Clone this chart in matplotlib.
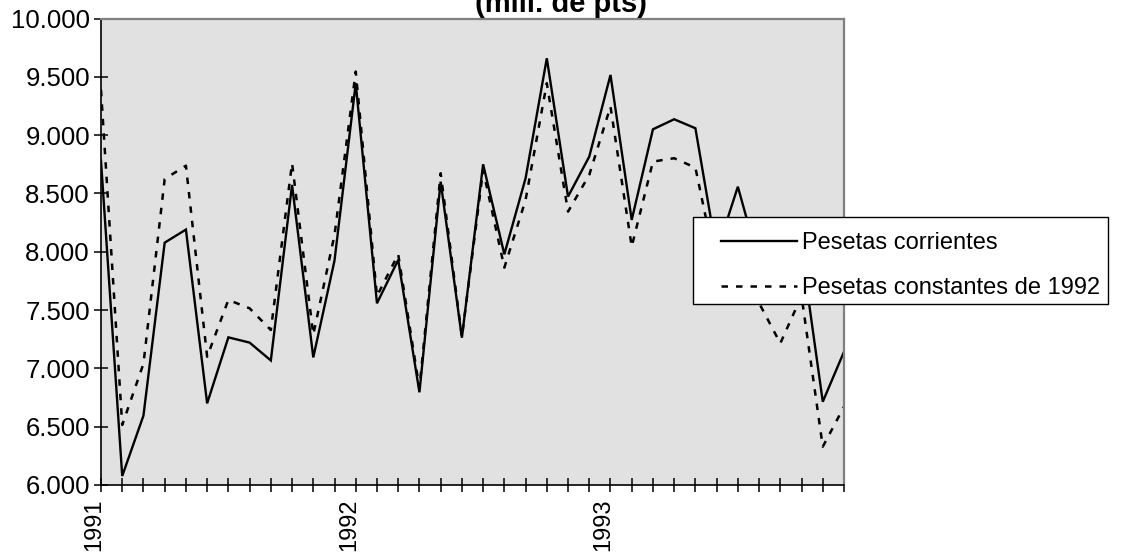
import matplotlib
matplotlib.use("Agg")
import matplotlib.pyplot as plt
import matplotlib.transforms as mtransforms
from matplotlib.patches import Rectangle
from matplotlib.lines import Line2D
from matplotlib.ticker import FixedLocator, FuncFormatter

plt.rcParams["font.family"] = ["Liberation Sans", "DejaVu Sans"]

# Monthly series, January 1991 - December 1993 (millions of pesetas)
months = list(range(36))
year_labels = ["1991", "1992", "1993"]
year_positions = [0, 12, 24]

corrientes = [8780, 6077, 6595, 8078, 8190, 6700, 7266, 7221, 7068, 8573, 7094, 7925,
              9445, 7558, 7930, 6795, 8601, 7263, 8750, 7978, 8630, 9659, 8473, 8816,
              9516, 8273, 9050, 9136, 9059, 7995, 8558, 7900, 7600, 8020, 6714, 7143]

constantes = [9388, 6515, 7040, 8624, 8738, 7100, 7587, 7515, 7329, 8759, 7290, 8144,
              9545, 7620, 7978, 6830, 8673, 7270, 8700, 7864, 8444, 9445, 8344, 8659,
              9245, 8044, 8773, 8802, 8721, 7850, 8150, 7560, 7215, 7620, 6328, 6671]

series_names = ["Pesetas corrientes", "Pesetas constantes de 1992"]
title_text = "(mill. de pts)"

W, H = 1122, 554
fig = plt.figure(figsize=(W / 100, H / 100), dpi=100)
fig.patch.set_facecolor("white")

ax = fig.add_axes([101 / W, 1 - 485 / H, 743 / W, (485 - 18.5) / H])
ax.set_facecolor("#e1e1e1")

dash = (0, (2.6, 3.2))
ax.plot(months, corrientes, color="black", lw=1.7, solid_joinstyle="miter")
ax.plot(months, constantes, color="black", lw=1.8, linestyle=dash)

ax.set_xlim(0, 35)
ax.set_ylim(6000, 10000)

ax.yaxis.set_major_locator(FixedLocator(range(6000, 10001, 500)))
ax.yaxis.set_major_formatter(
    FuncFormatter(lambda v, p: f"{int(v):,}".replace(",", ".")))

ax.xaxis.set_major_locator(FixedLocator(months))
lab = {p: t for p, t in zip(year_positions, year_labels)}
ax.xaxis.set_major_formatter(FuncFormatter(lambda v, p: lab.get(int(round(v)), "")))

ax.tick_params(axis="both", direction="inout", length=10, width=1.1,
               color="black")
ax.tick_params(axis="y", pad=3, labelsize=18.5)
ax.tick_params(axis="x", pad=5, labelsize=17)

shift = mtransforms.ScaledTranslation(-5 / 72, 0, fig.dpi_scale_trans)
for t in ax.get_xticklabels():
    t.set_rotation(90)
    t.set_transform(t.get_transform() + shift)

for side in ("left", "bottom"):
    ax.spines[side].set_color("black")
    ax.spines[side].set_linewidth(1.2)
for side in ("top", "right"):
    ax.spines[side].set_color("#808080")
    ax.spines[side].set_linewidth(1.6)

fig.text(0.5, 1 - 12.5 / H, title_text, ha="center", va="baseline",
         fontsize=21, fontweight="bold")

# legend box
fig.add_artist(Rectangle((693 / W, 1 - 304 / H), 415 / W, 87 / H,
                         transform=fig.transFigure, facecolor="white",
                         edgecolor="black", lw=1.0, zorder=5))
handles = [Line2D([], [], color="black", lw=1.7),
           Line2D([], [], color="black", lw=1.8, linestyle=dash)]
leg = fig.legend(handles, series_names, loc="upper left",
                 bbox_to_anchor=(721 / W, 1 - 232 / H),
                 bbox_transform=fig.transFigure, frameon=False,
                 fontsize=17, handlelength=3.2, handletextpad=0.25,
                 labelspacing=0.97, borderpad=0, borderaxespad=0)
leg.set_zorder(6)

fig.savefig("out.png", dpi=100)
